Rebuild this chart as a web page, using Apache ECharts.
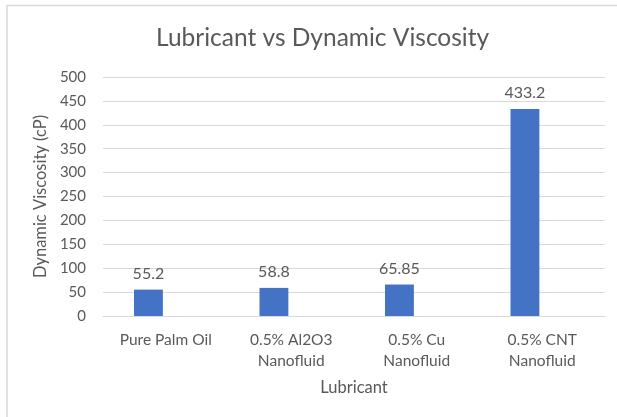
<!DOCTYPE html>
<html>
<head>
<meta charset="utf-8">
<script src="https://cdn.jsdelivr.net/npm/echarts@6/dist/echarts.min.js"></script>
<style>
  html, body { margin: 0; padding: 0; background: #fff; }
  #chart { width: 617px; height: 417px; }
</style>
</head>
<body>
<div id="chart"></div>
<script>
// data
const categories = ['Pure Palm Oil', '0.5% Al2O3\nNanofluid', '0.5% Cu\nNanofluid', '0.5% CNT\nNanofluid'];
const viscosity = [55.2, 58.8, 65.85, 433.2];
const valueLabels = ['55.2', '58.8', '65.85', '433.2'];
// the original has an empty second series, which pushes the bars left of the tick
const emptySeries = [null, null, null, null];

const textColor = '#595959';
const fontName = 'Lato, "Open Sans", sans-serif';

const myChart = echarts.init(document.getElementById('chart'));

const option = {
  backgroundColor: '#fff',
  textStyle: { fontFamily: fontName, color: textColor },
  graphic: [{
    type: 'rect',
    shape: { x: 7, y: 5.5, width: 640, height: 440 },
    style: { fill: 'none', stroke: '#D9D9D9', lineWidth: 1.5 },
    silent: true
  }],
  title: {
    text: 'Lubricant vs Dynamic Viscosity',
    left: 151,
    top: 21,
    textStyle: { fontFamily: fontName, fontSize: 24.5, fontWeight: 'normal', color: textColor }
  },
  grid: { left: 103, right: 12, top: 77, bottom: 101 },
  xAxis: {
    type: 'category',
    data: categories,
    name: 'Lubricant',
    nameLocation: 'middle',
    nameGap: 63,
    nameTextStyle: { fontFamily: fontName, fontSize: 16.5, color: textColor },
    axisLine: { lineStyle: { color: '#D9D9D9' } },
    axisTick: { show: false },
    axisLabel: { fontFamily: fontName, fontSize: 15.5, color: textColor, margin: 13, lineHeight: 21 }
  },
  yAxis: {
    type: 'value',
    min: 0,
    max: 500,
    interval: 50,
    name: 'Dynamic Viscosity (cP)',
    nameLocation: 'middle',
    nameGap: 50,
    nameTextStyle: { fontFamily: fontName, fontSize: 16.5, color: textColor },
    axisLine: { show: false },
    axisTick: { show: false },
    axisLabel: { fontFamily: fontName, fontSize: 15, color: textColor, margin: 17 },
    splitLine: { lineStyle: { color: '#D9D9D9', width: 1 } }
  },
  series: [{
    name: 'Dynamic Viscosity',
    type: 'bar',
    data: viscosity,
    barWidth: '23%',
    barGap: '20%',
    itemStyle: { color: '#4472C4' },
    label: {
      show: true,
      position: 'top',
      distance: 8,
      fontFamily: fontName,
      fontSize: 16,
      color: textColor,
      formatter: (p) => valueLabels[p.dataIndex]
    }
  }, {
    name: 'Empty',
    type: 'bar',
    data: emptySeries,
    barWidth: '23%',
    barGap: '20%'
  }]
};

myChart.setOption(option);
</script>
</body>
</html>
